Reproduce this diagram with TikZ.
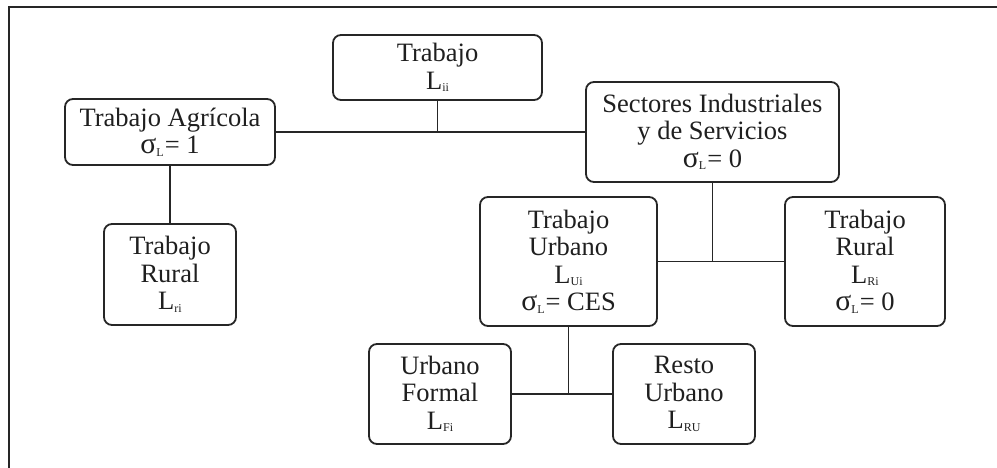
\documentclass[tikz,border=0pt]{standalone}
\usepackage{fontspec}
\setmainfont{Liberation Serif}
\newcommand{\lsub}[1]{\raisebox{-0.2ex}{\fontsize{12}{12}\selectfont #1}}
\newcommand{\sgm}{\scalebox{1.12}{σ}}
\begin{document}
\begin{tikzpicture}[x=1pt,y=-1pt,
  box/.style={draw=black!85, line width=1.8pt, rounded corners=8pt, align=center,
    inner sep=0pt, font=\fontsize{26.5}{27.5}\selectfont, text=black!88},
  link/.style={draw=black!85, line width=1.8pt}]
\useasboundingbox (0,0) rectangle (997,468);
\draw[line width=1.9pt, black!85] (9,470) -- (9,7) -- (1000,7);
\node[box, minimum width=209pt, minimum height=65pt] (trab) at (437.5,67.5) {Trabajo\\L\lsub{ii}};
\node[box, minimum width=210pt, minimum height=66pt] (agric) at (170,132) {Trabajo Agrícola\\\sgm\lsub{L}\kern1pt= 1};
\node[box, minimum width=253pt, minimum height=100pt] (sect) at (712.5,132) {Sectores Industriales\\y de Servicios\\\sgm\lsub{L}\kern1pt= 0};
\node[box, minimum width=132pt, minimum height=101pt] (rurL) at (170,274.5) {Trabajo\\Rural\\L\lsub{ri}};
\node[box, minimum width=177pt, minimum height=129pt] (urb) at (568.5,261.5) {Trabajo\\Urbano\\L\lsub{Ui}\\\sgm\lsub{L}\kern1pt= CES};
\node[box, minimum width=160pt, minimum height=129pt] (rurR) at (865,261.5) {Trabajo\\Rural\\L\lsub{Ri}\\\sgm\lsub{L}\kern1pt= 0};
\node[box, minimum width=142pt, minimum height=100pt] (form) at (440,394) {Urbano\\Formal\\L\lsub{Fi}};
\node[box, minimum width=142pt, minimum height=100pt] (resto) at (684,394) {Resto\\Urbano\\L\lsub{RU}};
\draw[link] (agric.east) -- (sect.west);
\draw[link] (trab.south) -- (trab.south |- agric.east);
\draw[link] (agric.south) -- (rurL.north);
\draw[link] (urb.east) -- (rurR.west);
\draw[link] (sect.south) -- (sect.south |- urb.east);
\draw[link] (form.east) -- (resto.west);
\draw[link] (urb.south) -- (urb.south |- form.east);
\end{tikzpicture}
\end{document}
